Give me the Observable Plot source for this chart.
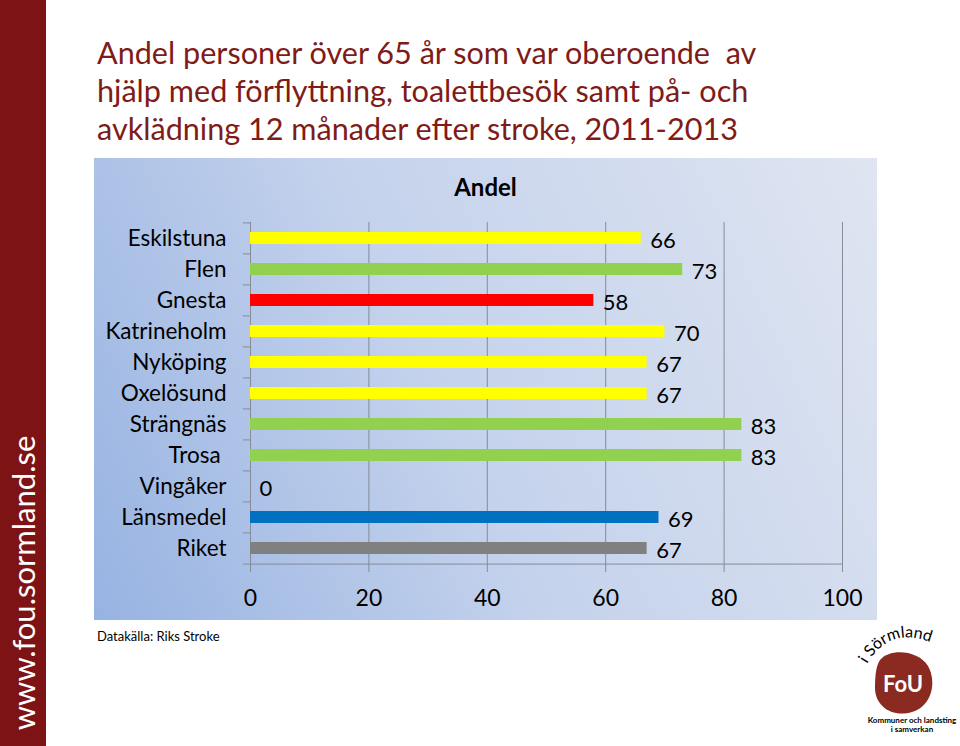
<!DOCTYPE html>
<html><head><meta charset="utf-8">
<script src="https://cdn.jsdelivr.net/npm/d3@7"></script>
<script src="https://cdn.jsdelivr.net/npm/@observablehq/plot@0.6"></script>
<style>
body{margin:0;width:960px;height:746px;position:relative;background:#fff;overflow:hidden;font-family:Lato,"Liberation Sans",sans-serif;}
#band{position:absolute;left:0;top:0;width:46px;height:746px;background:#7d1315;}
#url{position:absolute;left:23px;top:583px;transform:translate(-50%,-50%) rotate(-90deg);color:#fff;font-size:31px;white-space:nowrap;}
#title{position:absolute;left:97px;top:34px;color:#7f1b18;font-size:30.6px;line-height:38px;white-space:pre;}
#box{position:absolute;left:94px;top:158px;width:783px;height:462px;background:linear-gradient(65deg,#97b3e2 0%,#c4d2ec 45%,#dfe5f1 100%);}
#ctitle{position:absolute;left:0;top:14px;width:783px;text-align:center;font-weight:bold;font-size:24px;color:#000;}
#plot{position:absolute;left:0;top:0;}
#src{position:absolute;left:97px;top:628px;font-size:13px;color:#000;}
#logo{position:absolute;left:840px;top:620px;}
</style></head>
<body>
<div id="band"><div id="url">www.fou.sormland.se</div></div>
<div id="title">Andel personer över 65 år som var oberoende  av
hjälp med förflyttning, toalettbesök samt på- och
avklädning 12 månader efter stroke, 2011-2013</div>
<div id="box"><div id="plot"></div><div id="ctitle">Andel</div></div>
<div id="src">Datakälla: Riks Stroke</div>
<svg id="logo" width="120" height="126" viewBox="0 0 120 126">
  <defs><path id="arc" d="M27,44 Q56,-6 119,38"/></defs>
  <text font-family="Lato,sans-serif" font-size="16" fill="#000"><textPath href="#arc">i Sörmland</textPath></text>
  <path d="M40,40 C50,28 78,30 88,46 C97,62 92,86 72,92 C52,98 35,86 35,68 C35,56 36,46 40,40 Z" fill="#8a2a20"/>
  <text x="63" y="72" text-anchor="middle" font-family="Lato,sans-serif" font-weight="bold" font-size="22" fill="#fff">FoU</text>
  <text x="72" y="103" text-anchor="middle" font-family="Lato,sans-serif" font-weight="bold" font-size="8" fill="#000">Kommuner och landsting</text>
  <text x="72" y="112" text-anchor="middle" font-family="Lato,sans-serif" font-weight="bold" font-size="8" fill="#000">i samverkan</text>
</svg>
<script>
const categories = ["Eskilstuna","Flen","Gnesta","Katrineholm","Nyköping","Oxelösund","Strängnäs","Trosa\u00a0","Vingåker","Länsmedel","Riket"];
const values = [66,73,58,70,67,67,83,83,0,69,67];
const colors = ["#ffff00","#92d050","#ff0000","#ffff00","#ffff00","#ffff00","#92d050","#92d050","#ffff00","#0070c0","#808080"];
const xTicks = [0,20,40,60,80,100];

const data = categories.map((c,i)=>({cat:c, value:values[i], color:colors[i]}));
const W = 783, H = 462, mL = 156, mR = 35, mT = 64, mB = 55;
const step = (H - mT - mB) / categories.length;
const gray = "#868b98";
const last = [categories[categories.length-1]];

const chart = Plot.plot({
  width: W, height: H, marginLeft: mL, marginRight: mR, marginTop: mT, marginBottom: mB,
  style: {background: "transparent", fontFamily: "Lato, sans-serif", color: "#000", overflow: "visible"},
  x: {domain: [0,100], ticks: xTicks},
  y: {domain: categories, paddingInner: 0.6, paddingOuter: 0.3},
  color: {type: "identity"},
  marks: [
    Plot.gridX(xTicks, {stroke: gray, strokeOpacity: 1}),
    Plot.ruleY(last, {dy: step/2, stroke: gray}),
    Plot.ruleY(categories, {x1: -1.2, x2: 0, dy: -step/2, stroke: gray}),
    Plot.ruleY(last, {x1: -1.2, x2: 0, dy: step/2, stroke: gray}),
    Plot.barX(data, {x: "value", y: "cat", fill: "color"}),
    Plot.text(data, {x: "value", y: "cat", text: d => String(d.value), textAnchor: "start", dx: 9, dy: 2, fontSize: 22, fill: "#000"}),
    Plot.axisX({ticks: xTicks, tickSize: 7, tickPadding: 17, stroke: gray, fill: "#000", fontSize: 23, label: null}),
    Plot.axisY({tickSize: 0, tickPadding: 24, fill: "#000", fontSize: 22.5, label: null})
  ]
});
document.getElementById("plot").appendChild(chart);
</script>
</body></html>
